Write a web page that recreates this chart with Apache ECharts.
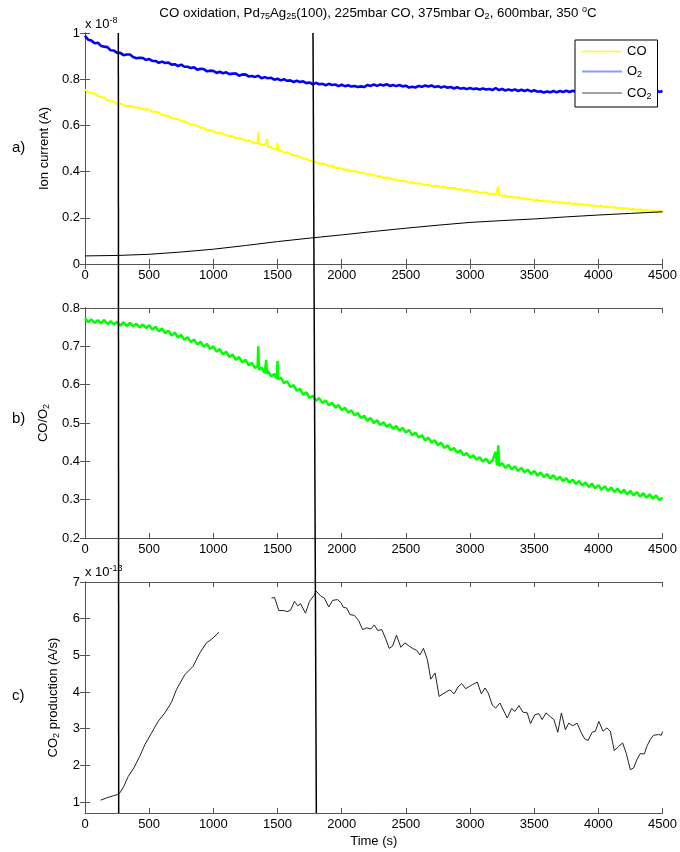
<!DOCTYPE html>
<html>
<head>
<meta charset="utf-8">
<script src="https://cdn.jsdelivr.net/npm/echarts@6/dist/echarts.min.js"></script>
<style>html,body{margin:0;padding:0;background:#fff}#chart{width:680px;height:852px}</style>
</head>
<body>
<div id="chart"></div>
<script>
// panel a: ion currents (x 1e-8 A) vs time (s)
var coCurrent = [[0,.755],[25,.743],[50,.741],[75,.738],[100,.727],[125,.722],[150,.721],[175,.709],[200,.707],[225,.703],
  [250,.694],[275,.695],[300,.688],[325,.683],[350,.685],[375,.681],[400,.676],[425,.678],[450,.669],[475,.670],
  [500,.669],[525,.659],[550,.659],[575,.656],[600,.646],[625,.643],[650,.642],[675,.631],[700,.630],[725,.627],
  [750,.618],[775,.618],[800,.610],[825,.603],[850,.603],[875,.598],[900,.590],[925,.590],[950,.579],[975,.579],
  [1000,.575],[1025,.566],[1050,.567],[1075,.565],[1100,.556],[1125,.554],[1150,.554],[1175,.544],[1200,.544],[1225,.542],
  [1250,.535],[1275,.536],[1300,.528],[1325,.523],[1345,.524],[1350,.570],[1355,.520],[1375,.519],[1400,.514],[1415,.510],
  [1420,.540],[1425,.508],[1450,.505],[1475,.497],[1495,.496],[1500,.525],[1505,.492],[1525,.491],[1550,.483],[1575,.484],
  [1600,.477],[1625,.469],[1650,.469],[1675,.464],[1700,.456],[1725,.456],[1750,.446],[1775,.445],[1800,.442],[1825,.434],
  [1850,.435],[1875,.431],[1900,.424],[1925,.426],[1950,.416],[1975,.417],[2000,.414],[2025,.407],[2050,.409],[2075,.401],
  [2100,.402],[2125,.400],[2150,.393],[2175,.395],[2200,.387],[2225,.388],[2250,.386],[2275,.379],[2300,.381],[2325,.372],
  [2350,.374],[2375,.372],[2400,.365],[2425,.367],[2450,.359],[2475,.360],[2500,.358],[2525,.351],[2550,.354],[2575,.348],
  [2600,.349],[2625,.347],[2650,.341],[2675,.344],[2700,.337],[2725,.339],[2750,.338],[2775,.332],[2800,.335],[2825,.328],
  [2850,.330],[2875,.329],[2900,.322],[2925,.325],[2950,.318],[2975,.320],[3000,.319],[3025,.312],[3050,.315],[3075,.308],
  [3100,.310],[3125,.309],[3150,.302],[3175,.305],[3200,.299],[3215,.302],[3220,.335],[3225,.300],[3250,.295],[3275,.297],
  [3300,.290],[3325,.293],[3350,.287],[3375,.289],[3400,.283],[3425,.285],[3450,.279],[3475,.281],[3500,.275],[3525,.278],
  [3550,.272],[3575,.275],[3600,.270],[3625,.272],[3650,.267],[3675,.270],[3700,.264],[3725,.267],[3750,.262],[3775,.265],
  [3800,.259],[3825,.262],[3850,.257],[3875,.259],[3900,.254],[3925,.257],[3950,.251],[3975,.254],[4000,.249],[4025,.252],
  [4050,.246],[4075,.249],[4100,.244],[4125,.247],[4150,.241],[4175,.244],[4200,.239],[4225,.242],[4250,.236],[4275,.239],
  [4300,.234],[4325,.237],[4350,.231],[4375,.234],[4400,.229],[4425,.232],[4450,.226],[4475,.229],[4500,.226]];

var o2Current = [[0,.988],[25,.971],[50,.967],[75,.956],[100,.958],[125,.944],[150,.941],[175,.939],[200,.925],[225,.924],
  [250,.914],[275,.914],[300,.904],[325,.907],[350,.907],[375,.896],[400,.891],[425,.893],[450,.892],[475,.883],
  [500,.887],[525,.879],[550,.879],[575,.871],[600,.876],[625,.870],[650,.872],[675,.863],[700,.865],[725,.857],
  [750,.863],[775,.854],[800,.854],[825,.848],[850,.852],[875,.841],[900,.845],[925,.844],[950,.834],[975,.837],
  [1000,.836],[1025,.827],[1050,.832],[1075,.826],[1100,.830],[1125,.822],[1150,.824],[1175,.825],[1200,.815],[1225,.820],
  [1250,.821],[1275,.812],[1300,.814],[1325,.810],[1350,.815],[1375,.804],[1400,.809],[1425,.804],[1450,.806],[1475,.798],
  [1500,.802],[1525,.795],[1550,.800],[1575,.793],[1600,.795],[1625,.788],[1650,.793],[1675,.788],[1700,.791],[1725,.783],
  [1750,.786],[1775,.778],[1800,.784],[1825,.778],[1850,.780],[1875,.774],[1900,.780],[1925,.775],[1950,.777],[1975,.770],
  [2000,.776],[2025,.770],[2050,.774],[2075,.768],[2100,.771],[2125,.766],[2150,.769],[2175,.766],[2200,.775],[2225,.771],
  [2250,.777],[2275,.771],[2300,.777],[2325,.773],[2350,.778],[2375,.771],[2400,.775],[2425,.770],[2450,.775],[2475,.769],
  [2500,.772],[2525,.764],[2550,.767],[2575,.764],[2600,.771],[2625,.767],[2650,.773],[2675,.768],[2700,.773],[2725,.766],
  [2750,.770],[2775,.764],[2800,.769],[2825,.763],[2850,.766],[2875,.760],[2900,.765],[2925,.759],[2950,.762],[2975,.757],
  [3000,.762],[3025,.757],[3050,.760],[3075,.755],[3100,.760],[3125,.755],[3150,.758],[3175,.753],[3200,.762],[3225,.753],
  [3250,.758],[3275,.751],[3300,.756],[3325,.751],[3350,.756],[3375,.749],[3400,.754],[3425,.749],[3450,.754],[3475,.747],
  [3500,.752],[3525,.746],[3550,.748],[3575,.742],[3600,.747],[3625,.743],[3650,.749],[3675,.743],[3700,.749],[3725,.745],
  [3750,.750],[3775,.745],[3800,.750],[3825,.746],[3850,.751],[3875,.745],[3900,.750],[3925,.746],[3950,.752],[3975,.746],
  [4000,.751],[4025,.747],[4050,.751],[4075,.745],[4100,.750],[4125,.746],[4150,.751],[4175,.745],[4200,.750],[4225,.746],
  [4250,.751],[4275,.745],[4300,.750],[4325,.746],[4350,.751],[4375,.745],[4400,.750],[4425,.746],[4450,.751],[4475,.745],[4500,.749]];

var co2Current = [[0,0.035],[250,0.037],[500,0.042],[750,0.052],[1000,0.064],[1250,0.080],[1500,0.097],[1750,0.112],[2000,0.126],
  [2250,0.141],[2500,0.155],[2750,0.168],[3000,0.180],[3250,0.188],[3500,0.195],[3750,0.204],[4000,0.212],[4250,0.219],[4500,0.226]];

// panel b: CO/O2 ratio
var coO2Ratio = [[0,.774],[25,.763],[50,.770],[75,.761],[100,.768],[125,.760],[150,.769],[175,.758],[200,.766],[225,.757],
  [250,.764],[275,.754],[300,.763],[325,.753],[350,.761],[375,.752],[400,.759],[425,.749],[450,.757],[475,.748],
  [500,.755],[525,.744],[550,.751],[575,.739],[600,.747],[625,.734],[650,.741],[675,.728],[700,.736],[725,.723],
  [750,.730],[775,.717],[800,.724],[825,.711],[850,.718],[875,.705],[900,.712],[925,.699],[950,.706],[975,.693],
  [1000,.700],[1025,.686],[1050,.693],[1075,.679],[1100,.686],[1125,.672],[1150,.679],[1175,.665],[1200,.672],[1225,.658],
  [1250,.665],[1275,.651],[1300,.657],[1325,.643],[1345,.649],[1350,.700],[1355,.639],[1375,.645],[1400,.630],[1412,.664],
  [1418,.628],[1425,.636],[1450,.622],[1475,.628],[1495,.615],[1500,.662],[1505,.614],[1525,.619],[1550,.604],[1575,.609],
  [1600,.594],[1625,.599],[1650,.584],[1675,.589],[1700,.574],[1725,.580],[1750,.565],[1775,.571],[1800,.558],[1825,.565],
  [1850,.552],[1875,.559],[1900,.546],[1925,.553],[1950,.540],[1975,.547],[2000,.534],[2025,.540],[2050,.527],[2075,.533],
  [2100,.520],[2125,.526],[2150,.513],[2175,.519],[2200,.506],[2225,.513],[2250,.500],[2275,.507],[2300,.495],[2325,.502],
  [2350,.490],[2375,.497],[2400,.485],[2425,.492],[2450,.480],[2475,.487],[2500,.475],[2525,.482],[2550,.468],[2575,.475],
  [2600,.462],[2625,.468],[2650,.455],[2675,.462],[2700,.449],[2725,.455],[2750,.442],[2775,.449],[2800,.435],[2825,.442],
  [2850,.429],[2875,.435],[2900,.422],[2925,.429],[2950,.416],[2975,.422],[3000,.409],[3025,.416],[3050,.404],[3075,.411],
  [3100,.399],[3125,.407],[3150,.395],[3175,.402],[3200,.425],[3210,.390],[3220,.442],[3228,.388],[3250,.395],[3275,.383],
  [3300,.391],[3325,.379],[3350,.387],[3375,.375],[3400,.383],[3425,.371],[3450,.379],[3475,.367],[3500,.375],[3525,.363],
  [3550,.371],[3575,.359],[3600,.367],[3625,.355],[3650,.364],[3675,.352],[3700,.360],[3725,.348],[3750,.356],[3775,.344],
  [3800,.352],[3825,.341],[3850,.349],[3875,.337],[3900,.345],[3925,.333],[3950,.342],[3975,.330],[4000,.338],[4025,.326],
  [4050,.335],[4075,.323],[4100,.332],[4125,.320],[4150,.329],[4175,.317],[4200,.326],[4225,.314],[4250,.323],[4275,.311],
  [4300,.320],[4325,.308],[4350,.317],[4375,.305],[4400,.314],[4425,.302],[4450,.311],[4475,.299],[4500,.305]];

// panel c: CO2 production (x 1e-13 A/s), two segments
var prodEarly = [[122,1.05],[168,1.11],[220,1.17],[251,1.20],[272,1.25],[303,1.43],[337,1.70],[381,1.93],[427,2.25],[466,2.56],
  [518,2.88],[570,3.20],[622,3.43],[674,3.72],[712,4.06],[777,4.47],[842,4.70],[894,5.06],[946,5.34],[984,5.43],[1044,5.63]];
var prodLate = [[1453,6.56],[1477,6.58],[1510,6.22],[1554,6.22],[1575,6.19],[1601,6.23],[1632,6.47],[1658,6.35],[1679,6.41],[1718,6.15],
  [1749,6.47],[1788,6.65],[1801,6.75],[1839,6.61],[1865,6.56],[1899,6.32],[1930,6.50],[1969,6.52],[1995,6.43],[2013,6.31],
  [2039,6.29],[2065,6.11],[2098,6.09],[2132,5.95],[2163,5.70],[2194,5.75],[2228,5.72],[2254,5.83],[2280,5.68],[2313,5.70],
  [2345,5.43],[2370,5.19],[2396,5.25],[2427,5.55],[2461,5.22],[2492,5.34],[2526,5.25],[2557,5.18],[2583,5.14],[2609,5.01],
  [2637,5.19],[2668,4.88],[2694,4.35],[2728,4.52],[2759,3.88],[2798,3.97],[2842,4.06],[2876,3.95],[2907,4.14],[2935,4.23],
  [2966,4.09],[3018,4.20],[3057,4.27],[3088,3.95],[3117,4.11],[3142,3.97],[3174,3.64],[3200,3.56],[3233,3.70],[3290,3.29],
  [3324,3.55],[3350,3.47],[3381,3.63],[3412,3.45],[3446,3.43],[3471,3.14],[3505,3.38],[3536,3.41],[3562,3.25],[3593,3.43],
  [3627,3.32],[3653,3.25],[3684,2.90],[3712,3.43],[3743,2.97],[3769,3.15],[3800,3.08],[3834,3.15],[3868,2.88],[3894,2.72],
  [3920,2.68],[3951,2.90],[3977,2.93],[4003,3.20],[4036,2.93],[4067,3.02],[4093,2.93],[4124,2.40],[4158,2.52],[4189,2.61],
  [4218,2.32],[4249,1.88],[4275,1.93],[4300,2.15],[4326,2.32],[4358,2.31],[4378,2.52],[4404,2.70],[4430,2.82],[4469,2.84],
  [4490,2.82],[4500,2.92]];

// vertical marker lines: time at top and bottom of the figure
var markerTimes = [[259, 262], [1772, 1798]];

var xTicks = [0, 4500, 500];
var yTicksA = [0, 1, 0.2];
var yTicksB = [0.2, 0.8, 0.1];
var yRangeC = [0.7, 7];
var yLabelsC = [1, 2, 3, 4, 5, 6, 7];

var font = '"Liberation Sans", Arial, sans-serif';
var rich = {
  s: {fontSize: 9, fontFamily: font, color: '#000', padding: [7, 0, 0, 0]},
  p: {fontSize: 9, fontFamily: font, color: '#000', padding: [0, 0, 7, 0]}
};
var axisColor = '#555';

function xAxes(g, showName) {
  var base = {
    gridIndex: g, type: 'value', min: xTicks[0], max: xTicks[1], interval: xTicks[2],
    axisLine: {lineStyle: {color: axisColor, width: 1}},
    axisTick: {inside: true, length: 5, lineStyle: {color: axisColor}},
    splitLine: {show: false}
  };
  var bottom = Object.assign({}, base, {
    position: 'bottom',
    axisLabel: {color: '#000', fontSize: 13, fontFamily: font, margin: 5,
      formatter: function (v) { return String(v); }}
  });
  if (showName) {
    bottom.name = 'Time (s)';
    bottom.nameLocation = 'middle';
    bottom.nameGap = 22;
    bottom.nameTextStyle = {color: '#000', fontSize: 13, fontFamily: font};
  }
  var top = Object.assign({}, base, {position: 'top', axisLabel: {show: false}});
  return [bottom, top];
}

function yAxes(g, range, name, gap, custom) {
  var base = {
    gridIndex: g, type: 'value', min: range[0], max: range[1],
    axisLine: {show: true, lineStyle: {color: axisColor, width: 1}},
    axisTick: {show: true, inside: true, length: 5, lineStyle: {color: axisColor}},
    splitLine: {show: false}
  };
  if (custom) {
    base.axisTick.customValues = custom;
  } else {
    base.interval = range[2];
  }
  var left = Object.assign({}, base, {
    position: 'left',
    name: name, nameLocation: 'middle', nameGap: gap,
    nameTextStyle: {color: '#000', fontSize: 13, fontFamily: font, rich: rich},
    axisLabel: {color: '#000', fontSize: 13, fontFamily: font, margin: 5}
  });
  if (custom) left.axisLabel.customValues = custom;
  var right = Object.assign({}, base, {position: 'right', name: '', axisLabel: {show: false}});
  return [left, right];
}

var xAxisList = [].concat(xAxes(0), xAxes(1), xAxes(2, true),
  [{gridIndex: 3, type: 'value', min: xTicks[0], max: xTicks[1], show: false}]);
var yAxisList = [].concat(
  yAxes(0, yTicksA, 'Ion current (A)', 34),
  yAxes(1, yTicksB, 'CO/O{s|2}', 32),
  yAxes(2, yRangeC, 'CO{s|2} production (A/s)', 24, yLabelsC),
  [{gridIndex: 3, type: 'value', min: 0, max: 1, show: false}]);

function lineSeries(name, data, xi, color, width) {
  return {
    name: name, type: 'line', data: data, xAxisIndex: xi, yAxisIndex: xi,
    symbol: 'none', animation: false,
    lineStyle: {color: color, width: width}, itemStyle: {color: color}
  };
}

var series = [
  lineSeries('CO', coCurrent, 0, '#ffff00', 2),
  lineSeries('O2', o2Current, 0, '#0000ff', 2.6),
  lineSeries('CO2', co2Current, 0, '#000000', 1),
  lineSeries('ratio', coO2Ratio, 2, '#00ff00', 2.5),
  lineSeries('prodEarly', prodEarly, 4, '#222222', 1),
  lineSeries('prodLate', prodLate, 4, '#222222', 1)
];
markerTimes.forEach(function (m, i) {
  var s = lineSeries('marker' + i, [[m[0], 1], [m[1], 0]], 6, '#000000', 1.5);
  s.z = 5;
  series.push(s);
});

var hidden = {color: 'rgba(0,0,0,0)', borderColor: 'rgba(0,0,0,0)'};
var chart = echarts.init(document.getElementById('chart'));
var option = {
  backgroundColor: '#fff',
  animation: false,
  title: {
    text: 'CO oxidation, Pd{s|75}Ag{s|25}(100), 225mbar CO, 375mbar O{s|2}, 600mbar, 350 {p|o}C',
    left: 373, textAlign: 'center', top: 0,
    textStyle: {color: '#000', fontSize: 13.3, fontWeight: 'normal', fontFamily: font, rich: rich}
  },
  legend: {
    data: [
      {name: 'CO', itemStyle: hidden, lineStyle: {color: '#ffff00', width: 1.5}},
      {name: 'O2', itemStyle: hidden, lineStyle: {color: '#8f95ff', width: 2}},
      {name: 'CO2', itemStyle: hidden, lineStyle: {color: '#444', width: 1}}
    ],
    orient: 'vertical', left: 575, top: 40,
    padding: [5, 6, 6, 6], itemGap: 7, itemWidth: 40, itemHeight: 2,
    borderColor: '#000', borderWidth: 1, backgroundColor: '#fff',
    formatter: function (n) {
      if (n === 'O2') return 'O{s|2}';
      if (n === 'CO2') return 'CO{s|2}';
      return n;
    },
    textStyle: {color: '#000', fontSize: 13, fontFamily: font, rich: rich}
  },
  grid: [
    {left: 85, right: 16, top: 33, height: 231},
    {left: 85, right: 16, top: 308, height: 230},
    {left: 85, right: 16, top: 582, height: 231},
    {left: 85, right: 16, top: 33, bottom: 39}
  ],
  xAxis: xAxisList,
  yAxis: yAxisList,
  graphic: [
    {type: 'text', left: 85, top: 16, style: {text: 'x 10{p|-8}', font: '13px ' + font, fill: '#000', rich: rich}},
    {type: 'text', left: 85, top: 564, style: {text: 'x 10{p|-13}', font: '13px ' + font, fill: '#000', rich: rich}},
    {type: 'text', left: 12, top: 140, style: {text: 'a)', font: '15px ' + font, fill: '#000'}},
    {type: 'text', left: 12, top: 411, style: {text: 'b)', font: '15px ' + font, fill: '#000'}},
    {type: 'text', left: 12, top: 688, style: {text: 'c)', font: '15px ' + font, fill: '#000'}}
  ],
  series: series
};
chart.setOption(option);

window.addEventListener('resize', function () {
  chart.resize();
});
</script>
</body>
</html>
